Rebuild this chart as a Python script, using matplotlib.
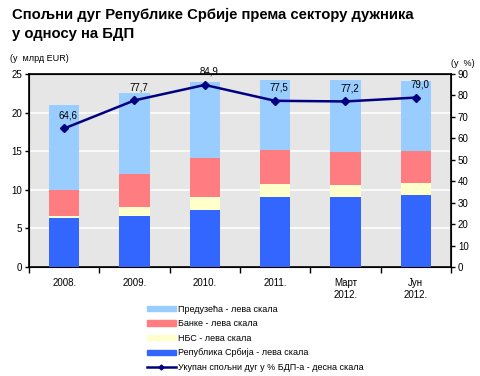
import numpy as np
import matplotlib.pyplot as plt
from matplotlib.lines import Line2D
from matplotlib.patches import Patch

kategorije = ["2008.", "2009.", "2010.", "2011.", "Март\n2012.", "Јун\n2012."]
republika = [6.4, 6.6, 7.4, 9.1, 9.1, 9.3]
nbs = [0.2, 1.2, 1.65, 1.7, 1.5, 1.6]
banke = [3.4, 4.3, 5.1, 4.4, 4.3, 4.1]
preduzeca = [11.0, 10.4, 9.8, 9.0, 9.3, 9.1]
udeo_bdp = [64.6, 77.7, 84.9, 77.5, 77.2, 79.0]
oznake = ["64,6", "77,7", "84,9", "77,5", "77,2", "79,0"]

plt.rcParams['font.family'] = ['Liberation Sans', 'DejaVu Sans']

fig = plt.figure(figsize=(4.8, 3.76), dpi=100)
ax = fig.add_axes([0.0604, 0.2899, 0.879, 0.5133])
ax.set_facecolor('#E6E6E6')

x = np.arange(len(kategorije))
w = 0.43
dno = np.zeros(len(x))
serije = [(republika, '#3366FF'), (nbs, '#FFFFCC'), (banke, '#FF7C80'), (preduzeca, '#99CCFF')]
for vals, c in serije:
    ax.bar(x, vals, w, bottom=dno, color=c, zorder=3)
    dno = dno + np.array(vals)

ax.set_ylim(0, 25)
ax.set_yticks(range(0, 26, 5))
ax.set_xlim(-0.5, len(x) - 0.5)
ax.yaxis.grid(True, color='white', linewidth=1.2, zorder=1)
ax.set_axisbelow(True)
ax.set_xticks(x)
ax.set_xticklabels(kategorije, fontsize=7)
ax.tick_params(axis='x', length=0, pad=8)
ax.set_xticks(np.arange(-0.5, len(x), 1), minor=True)
ax.tick_params(axis='x', which='minor', length=4, direction='out', width=1)
ax.tick_params(axis='y', labelsize=7, length=3, width=1, pad=2)
for s in ax.spines.values():
    s.set_linewidth(1.2)

ax2 = ax.twinx()
ax2.plot(x, udeo_bdp, color='#000080', linewidth=1.8, marker='D', markersize=4.5, zorder=5)
ax2.set_ylim(0, 90)
ax2.set_yticks(range(0, 91, 10))
ax2.tick_params(axis='y', labelsize=7, length=3, width=1, pad=2)
for i, v in enumerate(udeo_bdp):
    ax2.annotate(oznake[i], (x[i], v), xytext=(3, 6), textcoords='offset points',
                 ha='center', va='bottom', fontsize=7)

fig.text(0.025, 0.98, "Спољни дуг Републике Србије према сектору дужника\nу односу на БДП",
         fontsize=10.7, fontweight='bold', va='top', ha='left', linespacing=1.45)
fig.text(0.02, 0.845, "(у  млрд EUR)", fontsize=6.5, va='center')
fig.text(0.988, 0.832, "(у  %)", fontsize=6.5, va='center', ha='right')

handles = [Patch(color='#99CCFF'), Patch(color='#FF7C80'), Patch(color='#FFFFCC'),
           Patch(color='#3366FF'),
           Line2D([], [], color='#000080', linewidth=1.8, marker='D', markersize=2.5)]
labels = ['Предузећа - лева скала', 'Банке - лева скала', 'НБС - лева скала',
          'Република Србија - лева скала', 'Укупан спољни дуг у % БДП-а - десна скала']
fig.legend(handles, labels, loc='upper left', bbox_to_anchor=(0.306, 0.19),
           frameon=False, fontsize=6.5, handlelength=3.2, handleheight=0.5,
           handletextpad=0.2, labelspacing=0.62, borderaxespad=0, borderpad=0)

fig.savefig('out.png', dpi=100)
